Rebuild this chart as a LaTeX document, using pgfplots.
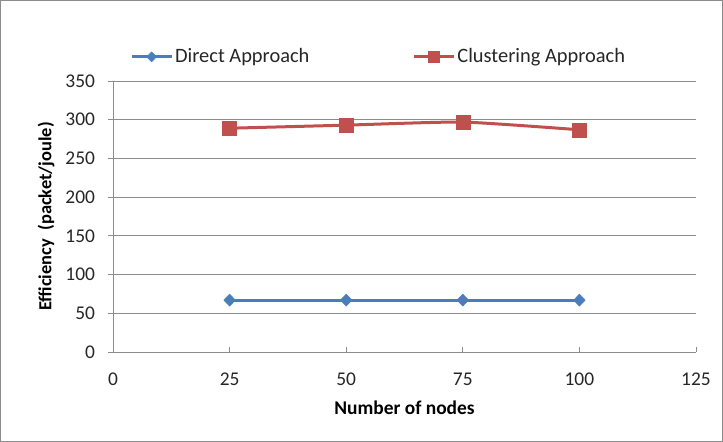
\documentclass[border=0pt]{standalone}
\usepackage{pgfplots}
\pgfplotsset{compat=1.18}
\usepackage{fontspec}
\setmainfont{Carlito}
\definecolor{gridgray}{RGB}{140,140,140}
\definecolor{dblue}{RGB}{74,126,187}
\definecolor{cred}{RGB}{192,80,77}
\begin{document}
\fontsize{14.5}{17}\selectfont
\begin{tikzpicture}
\useasboundingbox (-113bp,-90bp) rectangle (610bp,352bp);
\draw[gridgray, line width=0.8bp] (-112.5bp,-89.5bp) rectangle (609.5bp,351.5bp);
\begin{axis}[
  at={(0,0)}, anchor=origin,
  scale only axis, width=583bp, height=271bp,
  xmin=0, xmax=125, ymin=0, ymax=350,
  xtick={0,25,50,75,100,125}, ytick={0,50,...,350},
  axis x line*=bottom, axis y line*=left,
  axis line style={gridgray, line width=0.8bp, -},
  ymajorgrids, grid style={gridgray, line width=0.8bp},
  x tick style={gridgray, line width=0.8bp},
  y tick style={gridgray, line width=0.8bp},
  major tick length=5bp,
  xtick align=inside, ytick align=outside,
  tick label style={font=\fontsize{19.5}{21}\selectfont, text=black!85},
  /pgf/number format/assume math mode=true,
  xticklabel style={anchor=center, yshift=-27bp},
  yticklabel style={anchor=east, xshift=-8bp},
  xlabel={\textbf{Number of nodes}},
  ylabel={\textbf{Efficiency\ \ (packet/joule)}},
  xlabel style={font=\fontsize{19.5}{21}\selectfont, at={(axis description cs:0.5,0)}, anchor=center, yshift=-56bp},
  ylabel style={font=\fontsize{18.5}{20}\selectfont, at={(axis description cs:0,0.5)}, anchor=center, xshift=0bp, yshift=67bp},
  legend columns=2,
  legend style={draw=none, fill=none, at={(0.029,1.089)}, anchor=west,
    font=\fontsize{20.5}{22}\selectfont, /tikz/every even column/.append style={column sep=101bp},
    inner sep=0pt, text=black!85},
  legend cell align=left,
  legend image code/.code={\draw[mark repeat=2, mark phase=2] plot coordinates {(0bp,0bp) (20bp,0bp) (40bp,0bp)};},
]
\addplot[dblue, line width=3bp, mark=diamond*, mark size=6bp, mark options={solid, line width=0.5bp, xscale=1.3}, legend image post style={mark size=5bp}]
  coordinates {(25,67) (50,67) (75,67) (100,67)};
\addlegendentry{Direct Approach}
\addplot[cred, line width=3bp, mark=square*, mark size=7bp, mark options={solid, line width=0.5bp}, smooth, tension=0.3, legend image post style={mark size=5.5bp}]
  coordinates {(25,289) (50,293) (75,297) (100,287)};
\addlegendentry{Clustering Approach}
\end{axis}
\end{tikzpicture}
\end{document}
